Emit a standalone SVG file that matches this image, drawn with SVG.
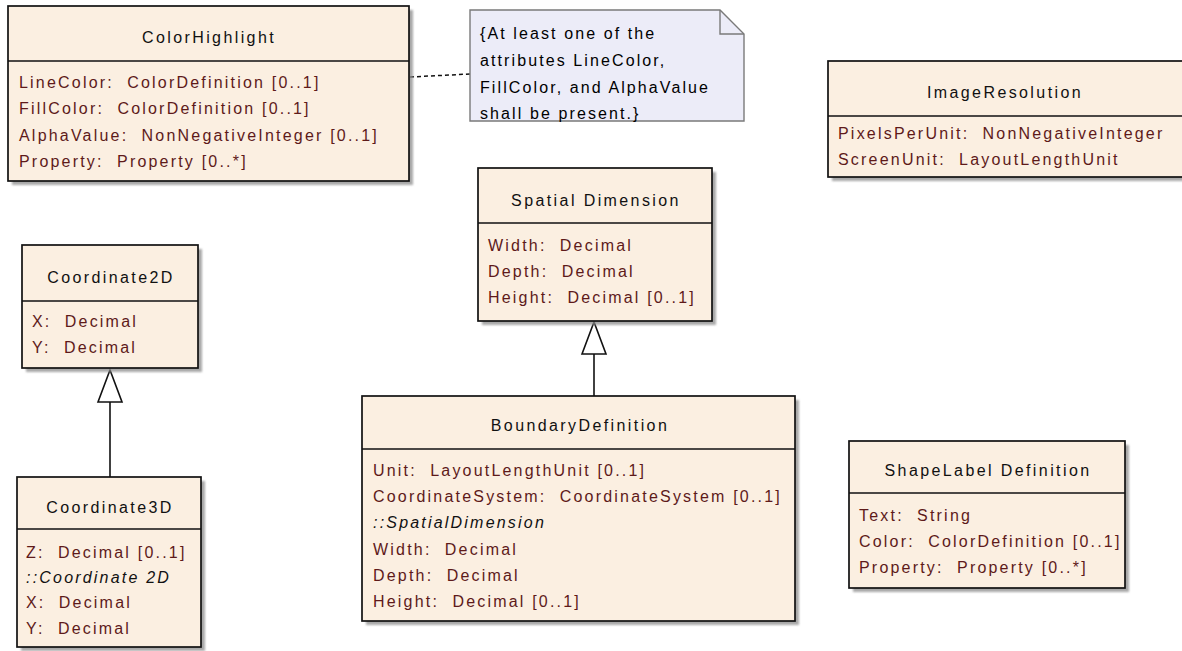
<svg xmlns="http://www.w3.org/2000/svg" width="1182" height="651" viewBox="0 0 1182 651">
<defs>
<style>
.box{fill:#fbefe1;stroke:#111;stroke-width:1.7}
.div{stroke:#111;stroke-width:1.5}
.sh{fill:#8c8c8c;opacity:.75;filter:url(#blur)}
.t{font-family:"Liberation Sans",Arial,sans-serif;font-size:16px;fill:#111;letter-spacing:2.4px;text-anchor:middle}
.a{font-family:"Liberation Sans",Arial,sans-serif;font-size:16px;fill:#5e1a1a;letter-spacing:2.2px;white-space:pre}
.i{font-family:"Liberation Sans",Arial,sans-serif;font-size:16px;fill:#111;font-style:italic;letter-spacing:2.2px}
.n{font-family:"Liberation Sans",Arial,sans-serif;font-size:16px;fill:#000;letter-spacing:2.1px}
.note{fill:#ececf8;stroke:#7a7a7a;stroke-width:1.4}
.con{fill:none;stroke:#111;stroke-width:1.6}
.dash{fill:none;stroke:#111;stroke-width:1.5;stroke-dasharray:4 3}
</style>
<filter id="blur" x="-5%" y="-5%" width="110%" height="110%"><feGaussianBlur stdDeviation="1.2"/></filter>
<marker id="gen" markerUnits="userSpaceOnUse" markerWidth="36" markerHeight="28" viewBox="-2 -2 36 28" refX="32" refY="12" orient="auto">
<path d="M0,0 L32,12 L0,24 Z" fill="#fff" stroke="#111" stroke-width="1.6"/>
</marker>
</defs>
<rect width="1182" height="651" fill="#fff"/>

<g id="connectors">
<path class="dash" d="M410,77 L470,74"/>
<line class="con" x1="110" y1="477" x2="110" y2="370" marker-end="url(#gen)"/>
<line class="con" x1="594" y1="396" x2="594" y2="322" marker-end="url(#gen)"/>
</g>

<g id="ColorHighlight">
<rect class="sh" x="12" y="10" width="401" height="175"/>
<rect class="box" x="8" y="6" width="401" height="175"/>
<line class="div" x1="8" y1="61" x2="409" y2="61"/>
<text class="t" x="209" y="43">ColorHighlight</text>
<text class="a" x="19" y="88" xml:space="preserve">LineColor:  ColorDefinition [0..1]</text>
<text class="a" x="19" y="114" xml:space="preserve">FillColor:  ColorDefinition [0..1]</text>
<text class="a" x="19" y="141" xml:space="preserve">AlphaValue:  NonNegativeInteger [0..1]</text>
<text class="a" x="19" y="167" xml:space="preserve">Property:  Property [0..*]</text>
</g>

<g id="Note">
<path class="note" d="M470,10 H720 L744,34 V121 H470 Z"/>
<path fill="none" stroke="#7a7a7a" stroke-width="1.4" d="M720,10 V34 H744"/>
<text class="n" x="480" y="39">{At least one of the</text>
<text class="n" x="480" y="66">attributes LineColor,</text>
<text class="n" x="480" y="93">FillColor, and AlphaValue</text>
<text class="n" x="480" y="119">shall be present.}</text>
</g>

<g id="ImageResolution">
<rect class="sh" x="832" y="65" width="355" height="116"/>
<rect class="box" x="828" y="61" width="356" height="116"/>
<line class="div" x1="828" y1="116" x2="1184" y2="116"/>
<text class="t" x="1005" y="98">ImageResolution</text>
<text class="a" x="838" y="139" xml:space="preserve">PixelsPerUnit:  NonNegativeInteger</text>
<text class="a" x="838" y="165" xml:space="preserve">ScreenUnit:  LayoutLengthUnit</text>
</g>

<g id="Coordinate2D">
<rect class="sh" x="26" y="249" width="176" height="123"/>
<rect class="box" x="22" y="245" width="176" height="123"/>
<line class="div" x1="22" y1="301" x2="198" y2="301"/>
<text class="t" x="111" y="283">Coordinate2D</text>
<text class="a" x="32" y="327" xml:space="preserve">X:  Decimal</text>
<text class="a" x="32" y="353" xml:space="preserve">Y:  Decimal</text>
</g>

<g id="Coordinate3D">
<rect class="sh" x="21" y="481" width="184" height="170"/>
<rect class="box" x="17" y="477" width="184" height="170"/>
<line class="div" x1="17" y1="529" x2="201" y2="529"/>
<text class="t" x="110" y="513">Coordinate3D</text>
<text class="a" x="26" y="558" xml:space="preserve">Z:  Decimal [0..1]</text>
<text class="i" x="26" y="583">::Coordinate 2D</text>
<text class="a" x="26" y="608" xml:space="preserve">X:  Decimal</text>
<text class="a" x="26" y="634" xml:space="preserve">Y:  Decimal</text>
</g>

<g id="SpatialDimension">
<rect class="sh" x="482" y="172" width="234" height="153"/>
<rect class="box" x="478" y="168" width="234" height="153"/>
<line class="div" x1="478" y1="223" x2="712" y2="223"/>
<text class="t" x="596" y="206">Spatial Dimension</text>
<text class="a" x="488" y="251" xml:space="preserve">Width:  Decimal</text>
<text class="a" x="488" y="277" xml:space="preserve">Depth:  Decimal</text>
<text class="a" x="488" y="303" xml:space="preserve">Height:  Decimal [0..1]</text>
</g>

<g id="BoundaryDefinition">
<rect class="sh" x="366" y="400" width="433" height="225"/>
<rect class="box" x="362" y="396" width="433" height="225"/>
<line class="div" x1="362" y1="449" x2="795" y2="449"/>
<text class="t" x="580" y="431">BoundaryDefinition</text>
<text class="a" x="373" y="476" xml:space="preserve">Unit:  LayoutLengthUnit [0..1]</text>
<text class="a" x="373" y="502" xml:space="preserve">CoordinateSystem:  CoordinateSystem [0..1]</text>
<text class="i" x="373" y="528">::SpatialDimension</text>
<text class="a" x="373" y="555" xml:space="preserve">Width:  Decimal</text>
<text class="a" x="373" y="581" xml:space="preserve">Depth:  Decimal</text>
<text class="a" x="373" y="607" xml:space="preserve">Height:  Decimal [0..1]</text>
</g>

<g id="ShapeLabelDefinition">
<rect class="sh" x="853" y="445" width="276" height="147"/>
<rect class="box" x="849" y="441" width="276" height="147"/>
<line class="div" x1="849" y1="493" x2="1125" y2="493"/>
<text class="t" x="988" y="476">ShapeLabel Definition</text>
<text class="a" x="859" y="521" xml:space="preserve">Text:  String</text>
<text class="a" x="859" y="547" xml:space="preserve">Color:  ColorDefinition [0..1]</text>
<text class="a" x="859" y="573" xml:space="preserve">Property:  Property [0..*]</text>
</g>
</svg>
